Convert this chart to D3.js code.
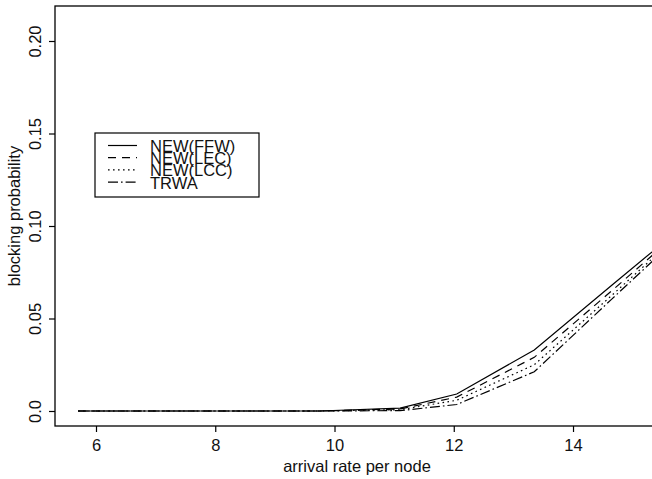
<!DOCTYPE html>
<html>
<head>
<meta charset="utf-8">
<script src="https://cdn.jsdelivr.net/npm/d3@7/dist/d3.min.js"></script>
<style>
  html, body { margin: 0; padding: 0; background: #fff; }
  svg text { font-family: "Liberation Sans", Arial, Helvetica, sans-serif; fill: #111; }
</style>
</head>
<body>
<svg id="chart" width="652" height="479"></svg>
<script>
// arrival rate per node (x) and blocking probability for each scheme
const arrivalRate = [5.7, 7.05, 8.4, 9.75, 11.1, 12.05, 13.35, 14.65, 16.0];
const ffw  = [0, 0, 0, 0, 0.0016, 0.0092, 0.0330, 0.0680, 0.1040];
const lec  = [0, 0, 0, 0, 0.0011, 0.0075, 0.0290, 0.0650, 0.1030];
const lcc  = [0, 0, 0, 0, 0.0007, 0.0058, 0.0250, 0.0625, 0.1020];
const trwa = [0, 0, 0, 0, 0.0002, 0.0035, 0.0212, 0.0605, 0.1010];

const seriesNames = ["NEW(FFW)", "NEW(LEC)", "NEW(LCC)", "TRWA"];
const seriesValues = [ffw, lec, lcc, trwa];
const dashes = [null, "8,6", "1.6,3.4", "10,3,1.6,3"];

const xTicks = [6, 8, 10, 12, 14];
const yTicks = [0, 0.05, 0.10, 0.15, 0.20];
const yTickLabels = ["0.0", "0.05", "0.10", "0.15", "0.20"];

const svg = d3.select("#chart");
const plot = { left: 55, top: 6, right: 659, bottom: 426 };

const x = d3.scaleLinear().domain([5.3124, 15.442]).range([plot.left, plot.right]);
const y = d3.scaleLinear().domain([-0.00811, 0.21892]).range([plot.bottom, plot.top]);

svg.append("defs").append("clipPath").attr("id", "plotClip")
  .append("rect")
  .attr("x", plot.left).attr("y", plot.top)
  .attr("width", plot.right - plot.left).attr("height", plot.bottom - plot.top);

// series lines
const line = d3.line().x((d, i) => x(arrivalRate[i])).y(d => y(d));
const lines = svg.append("g").attr("clip-path", "url(#plotClip)");
seriesValues.forEach((vals, k) => {
  lines.append("path")
    .datum(vals)
    .attr("d", line)
    .attr("fill", "none")
    .attr("stroke", "#000")
    .attr("stroke-width", 1.2)
    .attr("stroke-dasharray", dashes[k]);
});

// frame
svg.append("rect")
  .attr("x", plot.left).attr("y", plot.top)
  .attr("width", plot.right - plot.left).attr("height", plot.bottom - plot.top)
  .attr("fill", "none").attr("stroke", "#000").attr("stroke-width", 1.3);

// x axis
const xAxis = svg.append("g")
  .attr("transform", `translate(0,${plot.bottom})`)
  .call(d3.axisBottom(x).tickValues(xTicks).tickSize(6).tickSizeOuter(0).tickFormat(d3.format("d")));
xAxis.select(".domain").remove();
xAxis.selectAll(".tick line").attr("stroke", "#000").attr("stroke-width", 1.2);
xAxis.selectAll(".tick text")
  .attr("y", 25).attr("dy", null)
  .style("font-size", "16.5px")
  .style("font-family", '"Liberation Sans", Arial, sans-serif')
  .attr("fill", "#111");

// y axis with rotated labels
const yAxis = svg.append("g")
  .attr("transform", `translate(${plot.left},0)`)
  .call(d3.axisLeft(y).tickValues(yTicks).tickSize(6).tickSizeOuter(0)
    .tickFormat((d, i) => yTickLabels[i]));
yAxis.select(".domain").remove();
yAxis.selectAll(".tick line").attr("stroke", "#000").attr("stroke-width", 1.2);
yAxis.selectAll(".tick text")
  .attr("x", null).attr("dy", null)
  .attr("text-anchor", "middle")
  .attr("transform", "translate(-14,0) rotate(-90)")
  .style("font-size", "16.5px")
  .style("font-family", '"Liberation Sans", Arial, sans-serif')
  .attr("fill", "#111");

// axis titles
svg.append("text")
  .attr("x", (plot.left + plot.right) / 2).attr("y", 472)
  .attr("text-anchor", "middle")
  .style("font-size", "16.5px")
  .text("arrival rate per node");

svg.append("text")
  .attr("transform", `translate(20,${(plot.top + plot.bottom) / 2}) rotate(-90)`)
  .attr("text-anchor", "middle")
  .style("font-size", "16.5px")
  .text("blocking probability");

// legend
const legend = svg.append("g");
legend.append("rect")
  .attr("x", 95).attr("y", 133).attr("width", 164).attr("height", 64)
  .attr("fill", "#fff").attr("stroke", "#000").attr("stroke-width", 1.2);
seriesNames.forEach((name, k) => {
  const base = 152 + k * 12.2;
  legend.append("line")
    .attr("x1", 108).attr("x2", 137)
    .attr("y1", base - 6.5).attr("y2", base - 6.5)
    .attr("stroke", "#000").attr("stroke-width", 1.2)
    .attr("stroke-dasharray", dashes[k]);
  legend.append("text")
    .attr("x", 150).attr("y", base)
    .style("font-size", "16.5px")
    .text(name);
});
</script>
</body>
</html>
